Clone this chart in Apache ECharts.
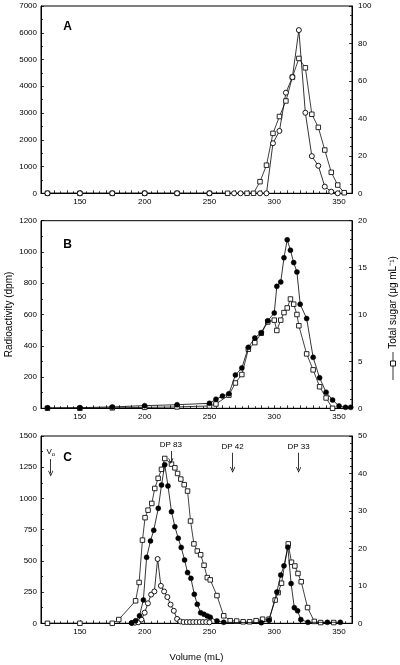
<!DOCTYPE html>
<html>
<head>
<meta charset="utf-8">
<script src="https://cdn.jsdelivr.net/npm/echarts@6/dist/echarts.min.js"></script>
<style>
html,body{margin:0;padding:0;background:#fff;}
#chart{width:400px;height:665px;}
</style>
</head>
<body>
<div id="chart"></div>
<script>
// ---------- DATA ----------
// Panel A
const aRadVol   = [125,150,175,200,225,250,269,274,289,294,299,304,309,314,319,324,329,334,339,344,349];
const aRadVal   = [0,0,0,0,0,0,0,0,0,0,1870,2330,3760,4340,6100,3010,1390,1030,250,60,0];
const aSugarVol = [125,150,175,200,225,250,264,279,284,289,294,299,304,309,314,319,324,329,334,339,344,349,354];
const aSugarVal = [0,0,0,0,0,0,0,0,0,6.2,15,32,41,49.3,62,72,67,42.2,35.2,23.1,11.2,4.4,0.3];

// Panel B
const bRadVol   = [125,150,175,200,225,250,255,260,265,270,275,280,285,290,295,300,302,305,307.5,310,312.5,315,317.5,320,325,330,335,340,345,350,355,359];
const bRadVal   = [3,4,9,17,23,32,58,78,93,213,258,390,450,484,560,610,780,808,963,1078,1011,932,872,666,574,326,195,103,53,15,6,6];
const bSugarVol = [125,150,175,200,225,250,255,265,270,275,280,285,290,295,300,302,305,307.5,310,312.5,315,317.5,319,325,330,335,340,345];
const bSugarVal = [0,0,0.05,0.1,0.15,0.25,0.46,1.4,2.7,3.6,6.3,7.0,8.0,9.2,9.4,8.3,9.4,10.2,10.7,11.65,11.1,10.0,8.8,5.8,4.1,2.3,1.1,0];

// Panel C
const cRadFilledVol = [190,193,196,199,201.5,204.5,207,210.5,213,215.5,218,220.7,223.3,225.9,228.2,230.8,233.1,235.7,238.3,240.6,243.2,245.8,248.3,250.6,255.8,261,290,296,302,305,307.5,310.5,313,315.5,318,320.5,326,341,351];
const cRadFilledVal = [3,20,60,187,528,660,745,921,1107,1270,1100,894,774,681,608,507,406,360,232,152,85,72,59,48,19,8,5,25,250,387,460,610,318,125,100,30,8,8,8];
const cRadOpenVol   = [190,192.5,195,197.5,200,202.5,205,207.5,210,212.5,215,217.5,220,222.5,225,227.5,230,232.5,235,237.5,240,242.5,245,247.5,250];
const cRadOpenVal   = [3,5,8,30,85,160,230,255,515,300,255,210,150,100,35,15,10,10,10,10,10,10,10,10,8];
const cSugarVol = [125,150,175,180,193,195.7,198.3,200.3,202.6,205.5,207.8,210.4,213,215.5,220.7,223.3,225.4,227.9,230.5,233.1,235.4,238,240.6,243.2,245.8,248.3,250.6,255.8,261,266,271,276,281,286,291,296,300.7,303,305.6,310.8,313.3,315.9,318.3,320.8,325.7,330.9,335.8,345.9];
const cSugarVal = [0,0,0,1,6,10.9,22.2,28.2,30.2,32,36,38.7,41.1,44,42.5,41.5,40,38.5,37,35.3,27.3,21.2,19.3,18.3,15.5,12.2,11.6,7.4,2.0,0.7,0.6,0.4,0.4,0.7,1.1,1.1,6.2,8.2,10.7,21.2,16.3,15.3,13.3,11.1,4.2,0.5,0.2,0.2];

// Arrow annotations in panel C: [label, volume, top value, bottom value]
const cMarkers = [
  ['V{s|o}', 127.5, 1315, 1200],
  ['DP 83', 220.2, 1380, 1300],
  ['DP 42', 267.9, 1366, 1230],
  ['DP 33', 318.8, 1366, 1230]
];

// X axis
const xMin = 120, xMax = 360;

// ---------- CHART ----------
const FONT = 'Liberation Sans, Arial, Helvetica, sans-serif';
const zip = (xs, ys) => xs.map((x, i) => [x, ys[i]]);

const grids = [
  {left: 41, right: 48, top: 6, height: 187.3},
  {left: 41, right: 48, top: 220.7, height: 187.6},
  {left: 41, right: 48, top: 436, height: 187.3}
].map(g => Object.assign(g, {show: true, borderColor: '#000', borderWidth: 1, backgroundColor: 'transparent',
                              containLabel: false, outerBoundsMode: 'none'}));

function xAx(i, extra) {
  return Object.assign({
    type: 'value', gridIndex: i, min: xMin, max: xMax, interval: 10,
    axisLine: {show: true, lineStyle: {color: '#000', width: 1}},
    axisTick: {show: true, inside: true, length: 3, lineStyle: {color: '#000', width: 0.8}},
    minorTick: {show: true, splitNumber: 2, length: 2, lineStyle: {color: '#000', width: 0.8}},
    axisLabel: {formatter: v => (v % 50 === 0 ? String(v) : ''), fontSize: 8, color: '#000', fontFamily: FONT, margin: 4},
    splitLine: {show: false}, minorSplitLine: {show: false}
  }, extra || {});
}
function yAx(i, pos, max, interval, minorSplit, extra) {
  return Object.assign({
    type: 'value', gridIndex: i, position: pos, min: 0, max: max, interval: interval,
    axisLine: {show: true, onZero: false, lineStyle: {color: '#000', width: 1}},
    axisTick: {show: true, inside: true, length: 3, lineStyle: {color: '#000', width: 0.8}},
    minorTick: {show: true, splitNumber: minorSplit, length: 2, lineStyle: {color: '#000', width: 0.8}},
    axisLabel: {formatter: v => String(v), fontSize: 8, color: '#000', fontFamily: FONT, margin: pos === 'left' ? 4 : 6},
    splitLine: {show: false}, minorSplitLine: {show: false}
  }, extra || {});
}

const xAxes = [
  xAx(0), xAx(1),
  xAx(2, {name: 'Volume (mL)', nameLocation: 'middle', nameGap: 29, nameMoveOverlap: false,
          nameTextStyle: {fontSize: 9.5, color: '#000', fontFamily: FONT}})
];
const yAxes = [
  yAx(0, 'left', 7000, 1000, 2),
  yAx(0, 'right', 100, 20, 4),
  yAx(1, 'left', 1200, 200, 2, {name: 'Radioactivity (dpm)', nameLocation: 'middle', nameRotate: 90, nameGap: 27,
        nameMoveOverlap: false,
        nameTextStyle: {fontSize: 10, color: '#000', fontFamily: FONT}}),
  yAx(1, 'right', 20, 5, 5),
  yAx(2, 'left', 1500, 250, 2),
  yAx(2, 'right', 50, 10, 5)
];

const LW = 0.8;
function openCircle(name, xi, yi, data) {
  return {type: 'line', name, xAxisIndex: xi, yAxisIndex: yi, data, symbol: 'circle', symbolSize: 5,
    lineStyle: {color: '#000', width: LW}, itemStyle: {color: '#fff', borderColor: '#000', borderWidth: 0.9},
    animation: false, z: 3};
}
function filledCircle(name, xi, yi, data) {
  return {type: 'line', name, xAxisIndex: xi, yAxisIndex: yi, data, symbol: 'circle', symbolSize: 5,
    lineStyle: {color: '#000', width: LW}, itemStyle: {color: '#000', borderColor: '#000', borderWidth: 0.5},
    animation: false, z: 4};
}
function openSquare(name, xi, yi, data) {
  return {type: 'line', name, xAxisIndex: xi, yAxisIndex: yi, data, symbol: 'rect', symbolSize: 4.5,
    lineStyle: {color: '#111', width: LW}, itemStyle: {color: '#fff', borderColor: '#111', borderWidth: 0.9},
    animation: false, z: 3};
}

const cFilled = filledCircle('C radioactivity', 2, 4, zip(cRadFilledVol, cRadFilledVal));
cFilled.markLine = {
  silent: true, animation: false,
  symbol: ['none', 'path://M5,0 L10,9 L9,10 L5,3 L1,10 L0,9 Z'],
  symbolSize: [5, 6],
  lineStyle: {color: '#000', width: 0.8, type: 'solid'},
  label: {show: true, position: 'start', distance: 2, fontSize: 8, color: '#000', fontFamily: FONT,
          formatter: p => p.name,
          rich: {s: {fontSize: 6, fontFamily: FONT, color: '#000', verticalAlign: 'bottom', padding: [5, 0, 0, 0]}}},
  data: cMarkers.map(m => [{name: m[0], coord: [m[1], m[2]]}, {coord: [m[1], m[3]]}])
};

const series = [
  openSquare('A sugar', 0, 1, zip(aSugarVol, aSugarVal)),
  openCircle('A radioactivity', 0, 0, zip(aRadVol, aRadVal)),
  openSquare('B sugar', 1, 3, zip(bSugarVol, bSugarVal)),
  filledCircle('B radioactivity', 1, 2, zip(bRadVol, bRadVal)),
  openSquare('C sugar', 2, 5, zip(cSugarVol, cSugarVal)),
  openCircle('C radioactivity (open)', 2, 4, zip(cRadOpenVol, cRadOpenVal)),
  cFilled
];

const panelLabel = (t, y) => ({type: 'text', x: 67.5, y: y,
  style: {text: t, font: 'bold 12px ' + FONT, fill: '#000', align: 'center', verticalAlign: 'middle'}});

const graphic = [
  panelLabel('A', 26.7), panelLabel('B', 244.7), panelLabel('C', 457.7),
  {type: 'text', x: 393, y: 302.5, rotation: Math.PI / 2,
   style: {text: 'Total sugar (\u03bcg mL\u207b\u00b9)', font: '10px ' + FONT, fill: '#000', align: 'center', verticalAlign: 'middle'}},
  {type: 'line', shape: {x1: 393, y1: 352, x2: 393, y2: 380}, style: {stroke: '#000', lineWidth: 0.8}},
  {type: 'rect', shape: {x: 390.5, y: 361, width: 5, height: 5}, style: {fill: '#fff', stroke: '#000', lineWidth: 0.9}}
];

const chart = echarts.init(document.getElementById('chart'), null, {renderer: 'canvas'});
chart.setOption({
  backgroundColor: '#fff',
  animation: false,
  textStyle: {fontFamily: FONT},
  grid: grids,
  xAxis: xAxes,
  yAxis: yAxes,
  series: series,
  graphic: graphic
});
</script>
</body>
</html>
